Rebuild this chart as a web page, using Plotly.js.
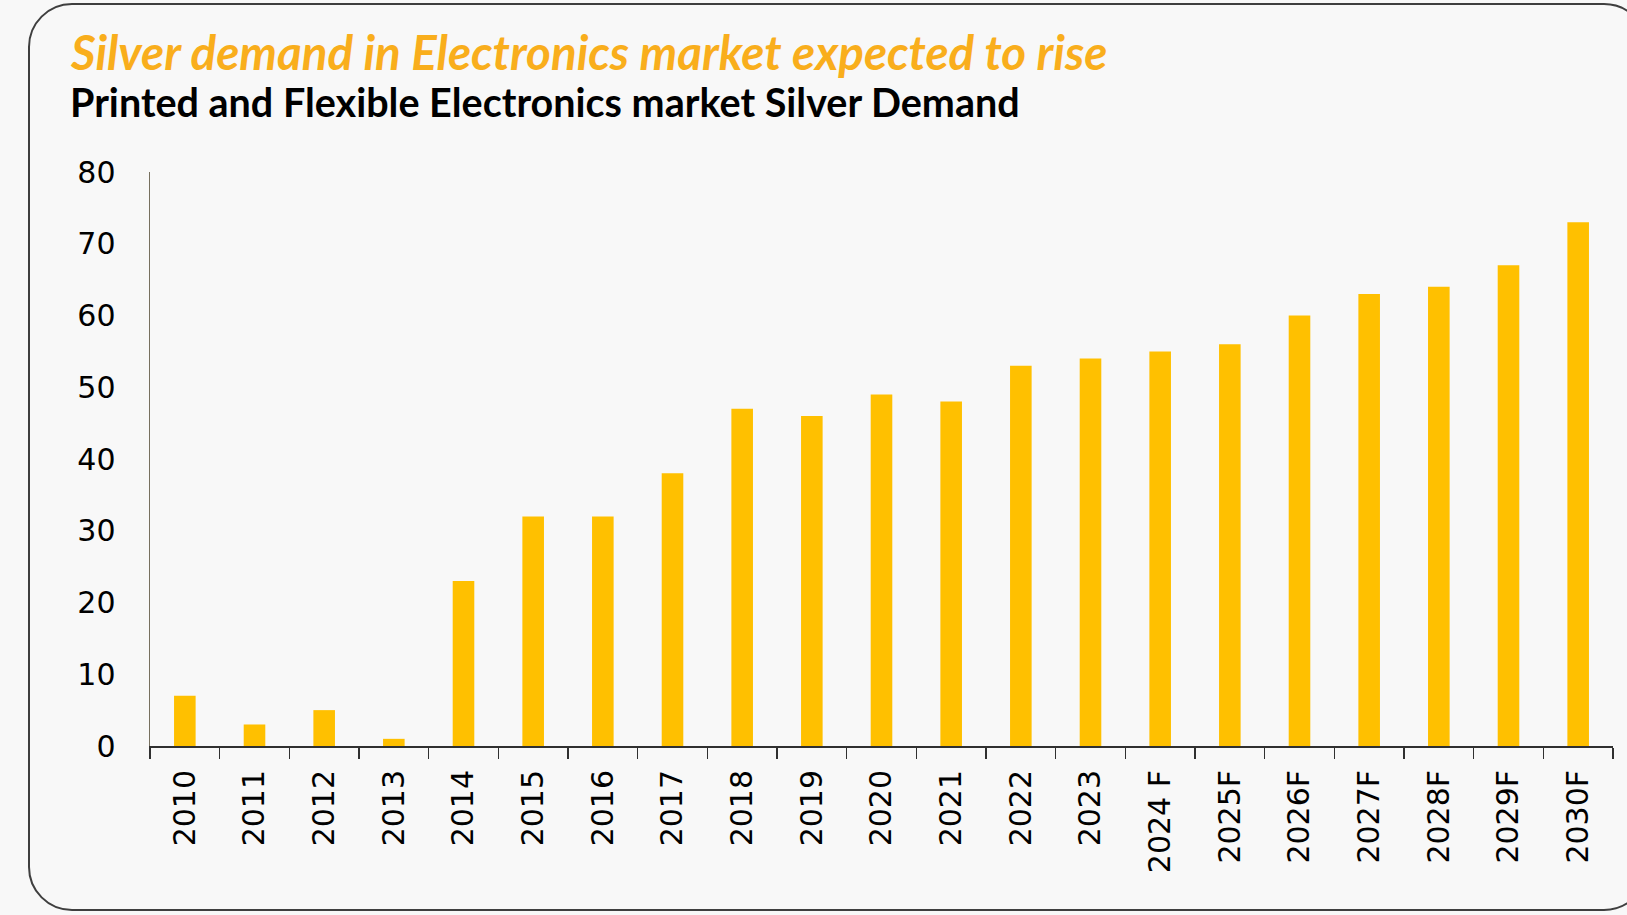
<!DOCTYPE html>
<html>
<head>
<meta charset="utf-8">
<script src="https://cdn.plot.ly/plotly-3.0.1.min.js"></script>
<style>
  html, body { margin: 0; padding: 0; background: #F8F8F8; }
  #wrap { position: relative; width: 1627px; height: 915px; overflow: hidden; background: #F8F8F8; }
  #frame { position: absolute; left: 28px; top: 3px; width: 1620px; height: 908px;
           border: 2px solid #3f3f3f; border-radius: 44px; box-sizing: border-box; pointer-events: none; z-index: 2; }
  #chart { position: absolute; left: 0; top: 0; width: 1627px; height: 915px; }
</style>
</head>
<body>
<div id="wrap">
  <div id="chart"></div>
  <div id="frame"></div>
</div>
<script>
const categories = ["2010","2011","2012","2013","2014","2015","2016","2017","2018","2019","2020",
  "2021","2022","2023","2024 F","2025F","2026F","2027F","2028F","2029F","2030F"];
const demand = [7, 3, 5, 1, 23, 32, 32, 38, 47, 46, 49, 48, 53, 54, 55, 56, 60, 63, 64, 67, 73];
const yTicks = [0, 10, 20, 30, 40, 50, 60, 70, 80];
const titleText = "Silver demand in Electronics market expected to rise";
const subtitleText = "Printed and Flexible Electronics market Silver Demand";

const trace = {
  type: "bar",
  x: categories,
  y: demand,
  marker: { color: "#FFC000" },
  hoverinfo: "x+y"
};

const layout = {
  width: 1627,
  height: 915,
  paper_bgcolor: "rgba(0,0,0,0)",
  plot_bgcolor: "rgba(0,0,0,0)",
  margin: { l: 150, r: 14, t: 172, b: 169 },
  bargap: 0.69,
  showlegend: false,
  font: { family: "DejaVu Sans", color: "#000000", size: 30 },
  xaxis: {
    type: "category",
    tickangle: -90,
    tickson: "boundaries",
    ticks: "outside",
    ticklen: 11,
    tickwidth: 1.5,
    tickcolor: "#303030",
    showline: true,
    linecolor: "#303030",
    linewidth: 2,
    showgrid: false,
    zeroline: false,
    tickfont: { family: "DejaVu Sans", size: 30, color: "#000000" },
    ticklabelstandoff: 10
  },
  yaxis: {
    range: [0, 80],
    tickvals: yTicks,
    ticktext: yTicks.map(String),
    showline: true,
    linecolor: "#77705f",
    linewidth: 1.5,
    showgrid: false,
    zeroline: false,
    ticks: "",
    tickfont: { family: "DejaVu Sans", size: 30, color: "#000000" },
    ticklabelstandoff: 27
  },
  annotations: [
    {
      text: "<b><i>" + titleText + "</i></b>",
      xref: "paper", yref: "paper",
      x: (68 - 150) / 1463, y: (746 - 51.5) / 574,
      xanchor: "left", yanchor: "middle",
      showarrow: false,
      font: { family: "Lato", size: 47.5, color: "#F9AE1C" }
    },
    {
      text: "<b>" + subtitleText + "</b>",
      xref: "paper", yref: "paper",
      x: (68 - 150) / 1463, y: (746 - 101.5) / 574,
      xanchor: "left", yanchor: "middle",
      showarrow: false,
      font: { family: "Lato", size: 39.5, color: "#000000" }
    }
  ]
};

Plotly.newPlot("chart", [trace], layout, { displayModeBar: false, staticPlot: true });
</script>
</body>
</html>
